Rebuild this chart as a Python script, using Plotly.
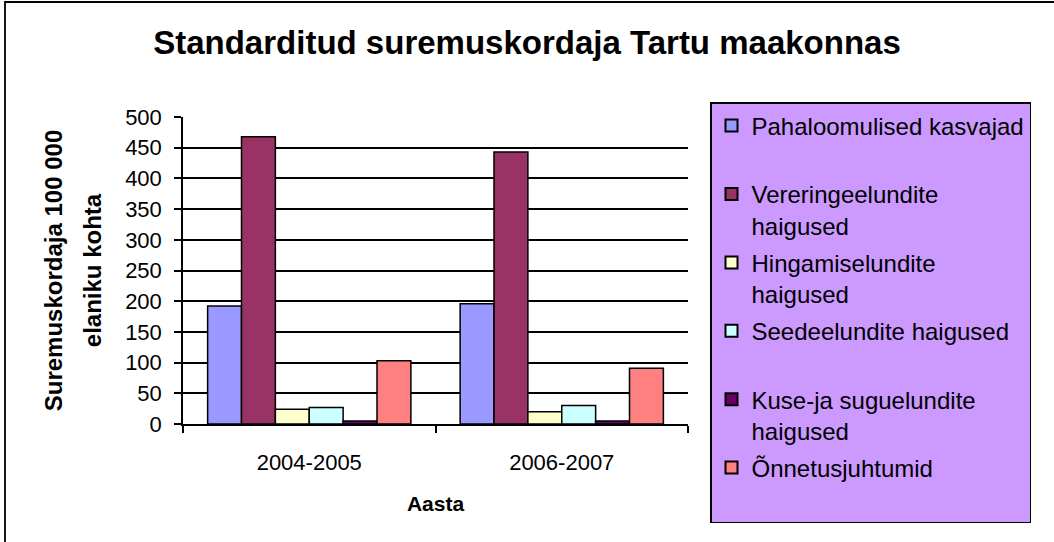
import plotly.graph_objects as go

categories = ["2004-2005", "2006-2007"]
series_names = [
    "Pahaloomulised kasvajad",
    "Vereringeelundite<br>haigused",
    "Hingamiselundite<br>haigused",
    "Seedeelundite haigused",
    "Kuse-ja suguelundite<br>haigused",
    "Õnnetusjuhtumid",
]
pahaloomulised = [192, 196]
vereringe = [468, 443]
hingamine = [24, 20]
seede = [27, 30]
kuse = [5, 5]
onnetus = [103, 91]
series_values = [pahaloomulised, vereringe, hingamine, seede, kuse, onnetus]
colors = ["#9999FF", "#993366", "#FFFFCC", "#CCFFFF", "#660066", "#FF8080"]
y_ticks = [0, 50, 100, 150, 200, 250, 300, 350, 400, 450, 500]

W, H = 1054, 542
ML, MR, MT, MB = 183, 366, 117, 118

fig = go.Figure()
for i, (name, vals, col) in enumerate(zip(series_names, series_values, colors)):
    label = name if "<br>" in name else name + "<br> "
    fig.add_trace(go.Bar(
        x=categories, y=vals, name=label,
        marker=dict(color=col, line=dict(color="black", width=1.5)),
        legendgroup=f"g{i}",
    ))

pw = W - ML - MR
ph = H - MT - MB
fig.add_shape(type="rect", xref="paper", yref="paper",
              x0=(5 - ML) / pw, x1=(W + 20 - ML) / pw,
              y0=-(H + 20 - (H - MB)) / ph, y1=(H - MB - 2) / ph,
              line=dict(color="black", width=1.8), fillcolor="rgba(0,0,0,0)", layer="below")

ytitle = ("<b><span style='font-size:24px'>Suremuskordaja 100 000</span><br>"
          "<span style='font-size:24px'>elaniku kohta</span></b>")

fig.update_layout(
    width=W, height=H,
    margin=dict(l=ML, r=MR, t=MT, b=MB, autoexpand=False),
    paper_bgcolor="white", plot_bgcolor="white",
    font=dict(family="Liberation Sans, Arial, sans-serif", color="black"),
    title=dict(text="<b>Standarditud suremuskordaja Tartu maakonnas</b>",
               x=0.5, xanchor="center", y=1 - 42 / H, yanchor="middle",
               font=dict(size=33)),
    barmode="group", bargap=0.195, bargroupgap=0,
    showlegend=True,
    legend=dict(
        x=(710 - ML) / pw, y=(H - MB - 102) / ph, xanchor="left", yanchor="top",
        bgcolor="#CC99FF", bordercolor="black", borderwidth=1.5,
        font=dict(size=24), tracegroupgap=3, valign="top",
        itemsizing="constant", maxheight=500,
        entrywidth=400, entrywidthmode="pixels",
    ),
    xaxis=dict(
        type="category", showline=True, linecolor="black", linewidth=1.5,
        ticks="outside", tickson="boundaries", ticklen=7, tickcolor="black", tickwidth=1.5,
        tickfont=dict(size=22), ticklabelstandoff=18,
        title=dict(text="<b>Aasta</b>", font=dict(size=21), standoff=22),
        showgrid=False,
    ),
    yaxis=dict(
        range=[0, 500], tickvals=y_ticks, showline=True, linecolor="black", linewidth=1.5,
        ticks="outside", ticklen=7, tickcolor="black", tickwidth=1.5,
        tickfont=dict(size=22), ticklabelstandoff=8,
        showgrid=True, gridcolor="black", gridwidth=1.8, zeroline=False,
        title=dict(text=ytitle, font=dict(size=30), standoff=15),
    ),
)

fig.write_html("out.html", config={"displayModeBar": False},
               post_script="document.body.style.margin='0';")
